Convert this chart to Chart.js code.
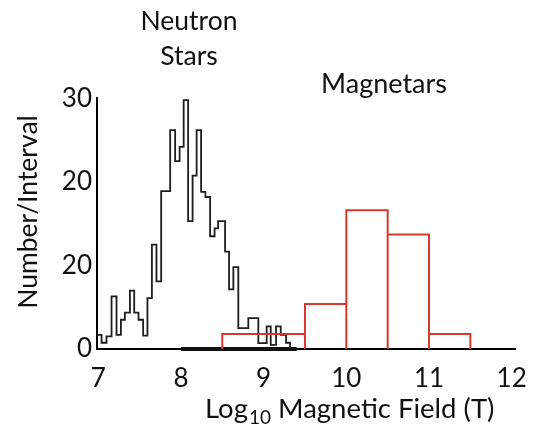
<!DOCTYPE html>
<html>
<head>
<meta charset="utf-8">
<script src="https://cdn.jsdelivr.net/npm/chart.js@4"></script>
<style>
  html, body { margin: 0; padding: 0; background: #fff; }
  #wrap { width: 542px; height: 431px; position: relative; }
</style>
</head>
<body>
<div id="wrap"><canvas id="c"></canvas></div>
<script>
// ---- data ----
const xTickValues = [7, 8, 9, 10, 11, 12];
const yTickValues = [0, 10, 20, 30];
const yTickLabels = ['0', '20', '20', '30'];

// Neutron stars histogram: bin edges (log10 B) and counts per bin
const nsEdges = [6.984, 7.040, 7.100, 7.161, 7.221, 7.274, 7.322, 7.383, 7.435, 7.487,
                 7.543, 7.595, 7.649, 7.704, 7.761, 7.870, 7.930, 7.984, 8.033, 8.087,
                 8.141, 8.190, 8.244, 8.296, 8.353, 8.407, 8.449, 8.534, 8.582, 8.634,
                 8.694, 8.815, 8.936, 9.037, 9.086, 9.150, 9.207, 9.271, 9.319];
const nsCounts = [1.7, 0.75, 1.5, 6.3, 1.7, 3.5, 4.35, 7.0, 4.35, 3.5,
                  1.6, 6.1, 12.5, 8.1, 18.9, 26.2, 22.5, 24.2, 29.8, 15.3,
                  20.75, 26.2, 18.8, 18.2, 13.5, 14.45, 15.3, 11.65, 7.15, 9.8,
                  2.5, 3.7, 0.7, 2.7, 0.5, 2.7, 1.7, 0.75];
const nsBaseRange = [8.0, 9.4];

// Magnetars histogram
const magEdges = [8.5, 9.5, 10.0, 10.5, 11.0, 11.5];
const magCounts = [1.8, 5.4, 16.6, 13.7, 1.8];

const labelNeutron = ['Neutron', 'Stars'];
const labelMagnetars = 'Magnetars';
const yTitle = 'Number/Interval';
const xTitleParts = ['Log', '10', ' Magnetic Field (T)'];

// ---- build datasets ----
const nsPoints = nsCounts.map((c, i) => ({ x: nsEdges[i], y: c }));
nsPoints.push({ x: nsEdges[nsEdges.length - 1], y: nsCounts[nsCounts.length - 1] });
nsPoints.push({ x: nsEdges[nsEdges.length - 1], y: 0 });

const magPoints = [];
magCounts.forEach((c, i) => {
  const l = magEdges[i], r = magEdges[i + 1];
  magPoints.push({ x: l, y: 0 }, { x: l, y: c }, { x: r, y: c }, { x: r, y: 0 }, { x: r, y: null });
});

const FONT = 'Lato';
const RED = '#d8392f';
const TXT = '#111';

const textPlugin = {
  id: 'texts',
  afterDraw(chart) {
    const ctx = chart.ctx;
    ctx.save();
    ctx.fillStyle = TXT;
    ctx.textBaseline = 'alphabetic';
    // Neutron / Stars
    ctx.font = `26.5px ${FONT}`;
    ctx.textAlign = 'center';
    ctx.fillText(labelNeutron[0], 189, 30);
    ctx.fillText(labelNeutron[1], 189, 65);
    // Magnetars
    ctx.font = `27px ${FONT}`;
    ctx.fillText(labelMagnetars, 384, 93);
    // y title
    ctx.save();
    ctx.translate(37, 212);
    ctx.rotate(-Math.PI / 2);
    ctx.textAlign = 'center';
    ctx.font = `26.5px ${FONT}`;
    ctx.fillText(yTitle, 0, 0);
    ctx.restore();
    // x title with subscript
    ctx.textAlign = 'left';
    let x = 205;
    const base = 418;
    ctx.font = `27.5px ${FONT}`;
    ctx.fillText(xTitleParts[0], x, base);
    x += ctx.measureText(xTitleParts[0]).width + 1;
    ctx.font = `19px ${FONT}`;
    ctx.fillText(xTitleParts[1], x, base + 6);
    x += ctx.measureText(xTitleParts[1]).width;
    ctx.font = `27.5px ${FONT}`;
    ctx.fillText(xTitleParts[2], x, base);
    ctx.restore();
  }
};

new Chart(document.getElementById('c'), {
  type: 'line',
  data: {
    datasets: [
      {
        label: 'Magnetars',
        data: magPoints,
        borderColor: RED,
        borderWidth: 2,
        backgroundColor: 'transparent',
        pointRadius: 0,
        tension: 0,
        spanGaps: false,
        clip: false
      },
      {
        label: 'Neutron Stars',
        data: nsPoints,
        borderColor: '#1e1e1e',
        borderWidth: 1.8,
        backgroundColor: 'transparent',
        pointRadius: 0,
        stepped: true,
        clip: false
      },
      {
        label: 'base',
        data: nsBaseRange.map(v => ({ x: v, y: 0 })),
        borderColor: '#111',
        borderWidth: 4,
        pointRadius: 0,
        clip: false
      }
    ]
  },
  options: {
    responsive: true,
    maintainAspectRatio: false,
    animation: false,
    events: [],
    layout: { padding: { top: 98, right: 27, left: 0, bottom: 0 } },
    plugins: { legend: { display: false }, tooltip: { enabled: false }, title: { display: false } },
    scales: {
      x: {
        type: 'linear',
        min: 6.985,
        max: 12.04,
        grid: { display: false, drawTicks: false },
        border: { display: true, color: '#000', width: 2 },
        afterBuildTicks: s => { s.ticks = xTickValues.map(v => ({ value: v })); },
        afterFit: s => { s.height = 82; },
        ticks: {
          font: { family: FONT, size: 26 },
          color: TXT,
          padding: 14,
          maxRotation: 0,
          autoSkip: false,
          callback: v => String(v)
        }
      },
      y: {
        type: 'linear',
        min: 0,
        max: 30.05,
        grid: { display: false, drawTicks: false },
        border: { display: true, color: '#000', width: 2 },
        afterBuildTicks: s => { s.ticks = yTickValues.map(v => ({ value: v })); },
        afterFit: s => { s.width = 97; },
        ticks: {
          font: { family: FONT, size: 26 },
          color: TXT,
          padding: 5,
          autoSkip: false,
          callback: v => yTickLabels[yTickValues.indexOf(v)]
        }
      }
    }
  },
  plugins: [textPlugin]
});
</script>
</body>
</html>
